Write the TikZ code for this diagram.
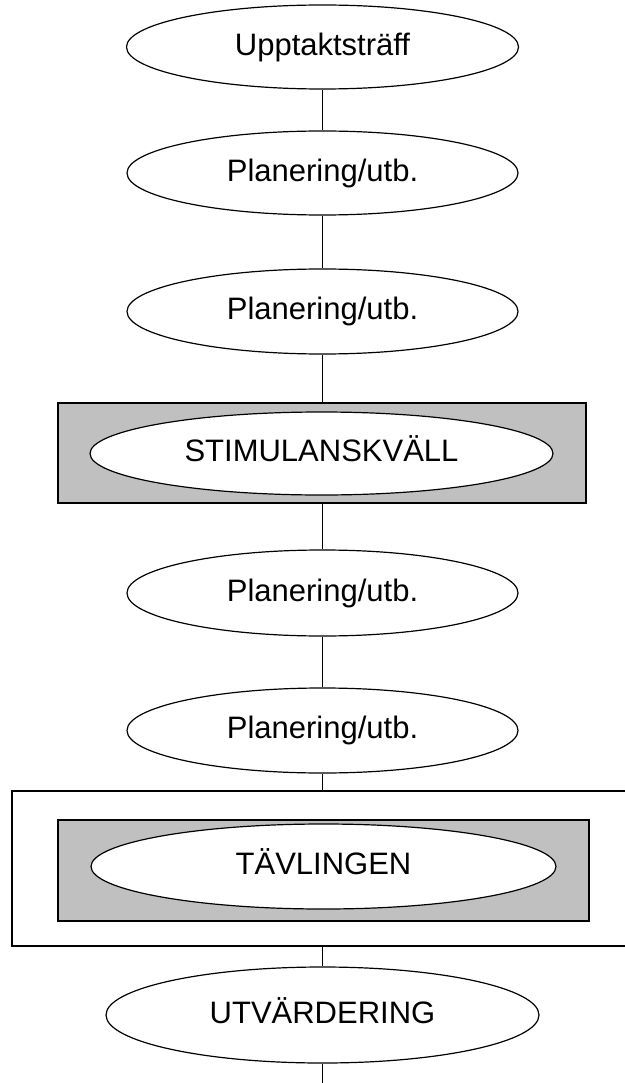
\documentclass[tikz,border=0pt]{standalone}
\usepackage{fontspec}
\setmainfont{Liberation Sans}
\usetikzlibrary{shapes.geometric}
\definecolor{boxgray}{HTML}{C0C0C0}
\tikzset{
  oval/.style={ellipse, draw=black, fill=white, line width=1.2pt, inner sep=0pt,
    minimum height=84pt, font=\fontsize{31}{36}\selectfont,
    text height=22.6pt, text depth=6.5pt},
  graybox/.style={rectangle, draw=black, fill=boxgray, line width=1.2pt, inner sep=0pt},
  framebox/.style={rectangle, draw=black, fill=white, line width=1.2pt, inner sep=0pt},
  conn/.style={draw=black, line width=1.2pt}
}
\begin{document}
\begin{tikzpicture}[x=1pt,y=-1pt]
\useasboundingbox (0,0) rectangle (624,1083);
% ellipses
\node[oval, minimum width=392pt] (E1) at (322.5,47) {Upptaktsträff};
\node[oval, minimum width=391pt] (E2) at (322.5,173) {Planering/utb.};
\node[oval, minimum width=391pt, minimum height=85pt] (E3) at (322.5,311.5) {Planering/utb.};
\node[graybox, minimum width=528pt, minimum height=100pt] (R1) at (322,453) {};
\node[oval, minimum width=463pt, minimum height=83pt] (E4) at (321.5,453.5) {STIMULANSKVÄLL};
\node[oval, minimum width=391pt, minimum height=86pt] (E5) at (322.5,593) {Planering/utb.};
\node[oval, minimum width=391pt, minimum height=85pt] (E6) at (322.5,730.5) {Planering/utb.};
\node[framebox, minimum width=628pt, minimum height=155pt] (F) at (326,868.5) {};
\node[graybox, minimum width=531pt, minimum height=101pt] (R2) at (323.5,870.5) {};
\node[oval, minimum width=465pt, minimum height=85pt] (E7) at (323.5,866.5) {TÄVLINGEN};
\node[oval, minimum width=433pt, minimum height=96pt] (E8) at (322.5,1015) {UTVÄRDERING};
\coordinate (END) at (322.5,1083);
% connectors
\draw[conn] (E1.south) -- (E2.north);
\draw[conn] (E2.south) -- (E3.north);
\draw[conn] (E3.south) -- (E3.south |- R1.north);
\draw[conn] (E5.north |- R1.south) -- (E5.north);
\draw[conn] (E5.south) -- (E6.north);
\draw[conn] (E6.south) -- (E6.south |- F.north);
\draw[conn] (E8.north |- F.south) -- (E8.north);
\draw[conn] (E8.south) -- (END);
\end{tikzpicture}
\end{document}
